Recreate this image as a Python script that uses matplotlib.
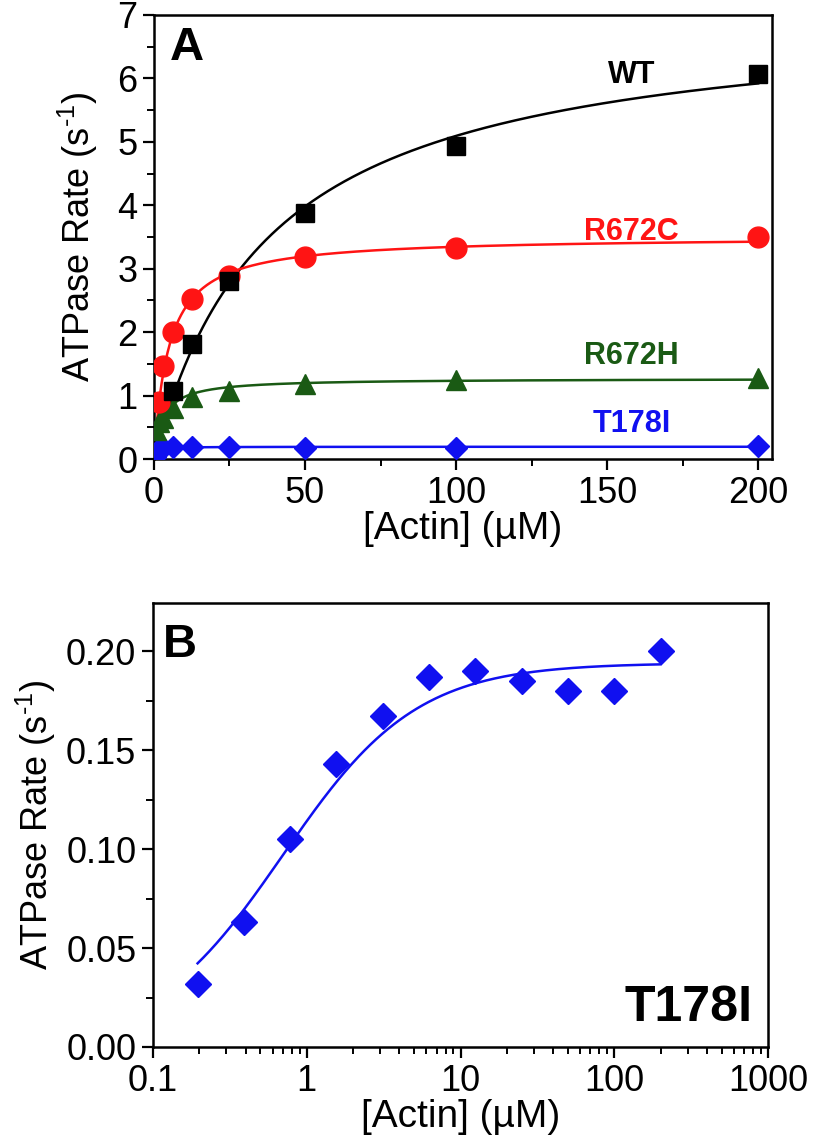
import numpy as np
import matplotlib
matplotlib.use("Agg")
import matplotlib.pyplot as plt
from matplotlib.ticker import (MultipleLocator, LogLocator, FixedLocator, FixedFormatter,
                               NullFormatter, FormatStrFormatter)

plt.rcParams['font.family'] = ['Liberation Sans', 'DejaVu Sans']
plt.rcParams['mathtext.fontset'] = 'custom'
plt.rcParams['mathtext.rm'] = 'Liberation Sans'
plt.rcParams['mathtext.it'] = 'Liberation Sans'

# ---- data ----
actin = [0.195, 0.39, 0.78, 1.56, 3.125, 6.25, 12.5, 25, 50, 100, 200]
wt_x = [6.25, 12.5, 25, 50, 100, 200]
wt_y = [1.08, 1.82, 2.80, 3.88, 4.93, 6.07]
r672c_x = [1.56, 3.125, 6.25, 12.5, 25, 50, 100, 200]
r672c_y = [0.90, 1.47, 2.00, 2.52, 2.88, 3.18, 3.33, 3.50]
r672h_x = [0.78, 1.56, 3.125, 6.25, 12.5, 25, 50, 100, 200]
r672h_y = [0.45, 0.58, 0.65, 0.80, 0.98, 1.07, 1.18, 1.24, 1.27]
t178i_y = [0.032, 0.063, 0.105, 0.143, 0.167, 0.187, 0.190, 0.185, 0.180, 0.180, 0.200]
xticklabels_B = ['0.1', '1', '10', '100', '1000']

# Michaelis-Menten fit parameters (Vmax, Km)
wt_fit = (7.07, 38.8)
r672c_fit = (3.51, 4.9)
r672h_fit = (1.27, 3.0)
t178i_fit = (0.194, 0.70)

series_names = ['WT', 'R672C', 'R672H', 'T178I']
label_y = [6.06, 3.58, 1.62, 0.56]

c_wt = 'black'
c_c = '#ff1414'
c_h = '#1a5a14'
c_t = '#1010f0'
colors = [c_wt, c_c, c_h, c_t]

def mm(x, p):
    return p[0] * x / (p[1] + x)

fig = plt.figure(figsize=(8.16, 11.43), dpi=100)
bold = dict(fontweight='bold', family=['Liberation Sans', 'DejaVu Sans'])
ylab = 'ATPase Rate (s$^{\\text{-}1}$)'

# ---------- Panel A ----------
axA = fig.add_axes([0.1887, 0.5984, 0.7574, 0.3885])
xs = np.linspace(0, 200, 800)
for p, c in zip([wt_fit, r672c_fit, r672h_fit, t178i_fit], colors):
    axA.plot(xs, mm(xs, p), color=c, lw=1.8, zorder=2)
axA.plot(actin, t178i_y, 'D', color=c_t, ms=11, zorder=3)
axA.plot(r672h_x, r672h_y, '^', color=c_h, ms=14, zorder=3)
axA.plot(r672c_x, r672c_y, 'o', color=c_c, ms=15, zorder=3)
axA.plot(wt_x, wt_y, 's', color=c_wt, ms=13, zorder=4)

axA.set_xlim(0, 204.6)
axA.set_ylim(0, 7)
axA.xaxis.set_major_locator(MultipleLocator(50))
axA.xaxis.set_minor_locator(MultipleLocator(25))
axA.yaxis.set_major_locator(MultipleLocator(1))
axA.yaxis.set_minor_locator(MultipleLocator(0.5))
axA.set_xlabel('[Actin] (µM)', fontsize=28, labelpad=0)
axA.set_ylabel(ylab, fontsize=26, labelpad=12)
axA.text(0.025, 0.975, 'A', transform=axA.transAxes, fontsize=34, va='top', ha='left', **bold)
for name, yv, c in zip(series_names, label_y, colors):
    axA.text(158, yv, name, color=c, fontsize=22, ha='center', va='center', **bold)

# ---------- Panel B ----------
axB = fig.add_axes([0.1875, 0.0840, 0.7537, 0.3884])
xb = np.logspace(np.log10(actin[0]), np.log10(actin[-1]), 400)
axB.plot(xb, mm(xb, t178i_fit), color=c_t, lw=1.8, zorder=2)
axB.plot(actin, t178i_y, 'D', color=c_t, ms=13, zorder=3)
axB.set_xscale('log')
axB.set_xlim(0.1, 1000)
axB.set_ylim(0, 0.2243)
axB.xaxis.set_major_locator(FixedLocator([0.1, 1, 10, 100, 1000]))
axB.xaxis.set_major_formatter(FixedFormatter(xticklabels_B))
axB.xaxis.set_minor_locator(LogLocator(base=10, subs=np.arange(2, 10)))
axB.xaxis.set_minor_formatter(NullFormatter())
axB.yaxis.set_major_locator(MultipleLocator(0.05))
axB.yaxis.set_minor_locator(MultipleLocator(0.025))
axB.yaxis.set_major_formatter(FormatStrFormatter('%.2f'))
axB.set_xlabel('[Actin] (µM)', fontsize=28, labelpad=0)
axB.set_ylabel(ylab, fontsize=26, labelpad=6)
axB.text(0.016, 0.955, 'B', transform=axB.transAxes, fontsize=34, va='top', ha='left', **bold)
axB.text(0.975, 0.035, 'T178I', transform=axB.transAxes, fontsize=36, va='bottom', ha='right', **bold)

for ax in (axA, axB):
    for s in ax.spines.values():
        s.set_linewidth(1.8)
    ax.tick_params(which='major', direction='out', length=8, width=1.6, labelsize=26, pad=4)
    ax.tick_params(which='minor', direction='out', length=5, width=1.4)

fig.savefig('out.png', dpi=100)
